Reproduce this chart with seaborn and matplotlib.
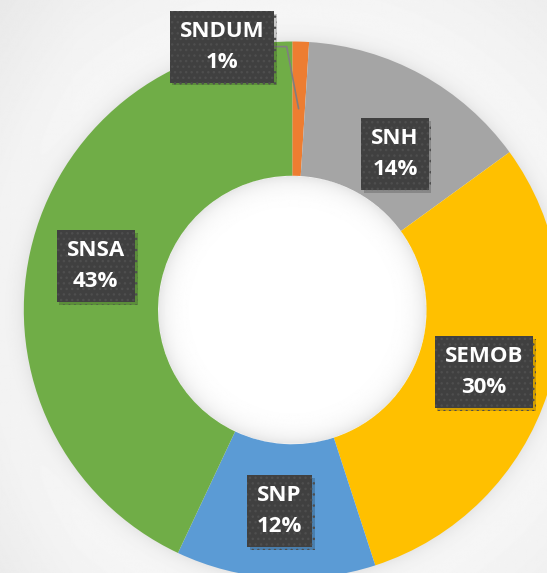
import numpy as np
import matplotlib
matplotlib.use("Agg")
import matplotlib.pyplot as plt
import matplotlib.patheffects as pe
import seaborn as sns

# Chart data (share of total, %)
categories = ["SNDUM", "SNH", "SEMOB", "SNP", "SNSA"]
shares = [1, 14, 30, 12, 43]
slice_colors = ["#ED7D31", "#A5A5A5", "#FFC000", "#5B9BD5", "#70AD47"]

sns.set_theme(style="white")
plt.rcParams["font.family"] = ["Open Sans", "DejaVu Sans"]

fig = plt.figure(figsize=(5.47, 5.73), dpi=100)
ax = fig.add_axes([0, 0, 1, 1])

# axis limits chosen so the ring sits where it does in the original (cropped right/bottom)
xlim = (-1.0886, 0.9486)
ylim = (-0.9795, 1.1546)

# soft background: light radial gradient, shadow round the ring, shading inside the hole
gx, gy = np.meshgrid(np.linspace(*xlim, 600), np.linspace(ylim[1], ylim[0], 620))
r = np.hypot(gx, gy)
bg = 0.975 - 0.045 * np.clip(r - 1.0, 0, None) / 0.5
bg = bg - 0.035 * (gx < 0) * np.clip(-gx - 0.8, 0, None)
shadow = 0.075 * np.exp(-np.clip(r - 1.0, 0, None) / 0.035) * (r > 0.99)
bg = bg - shadow
hole = r < 0.5
bg[hole] = 1.0 - 0.10 * np.exp(-(0.5 - r[hole]) / 0.035)
ax.imshow(np.clip(bg, 0, 1), cmap="gray", vmin=0, vmax=1, extent=(*xlim, *ylim),
          aspect="auto", zorder=0, interpolation="bilinear")

wedges, _ = ax.pie(shares, colors=sns.color_palette(slice_colors), startangle=90,
                   counterclock=False, radius=1.0,
                   wedgeprops=dict(width=0.5, linewidth=0))
for w in wedges:
    w.set_zorder(2)

ax.set_xlim(*xlim)
ax.set_ylim(*ylim)
ax.set_aspect("equal")
ax.axis("off")

# labels in the middle of the ring, nudged where the original moved them
nudges = {"SNDUM": (-0.286, 0.231), "SNH": (0.021, -0.076)}
cum = np.cumsum([0] + shares[:-1])
total = sum(shares)
for name, val, c0 in zip(categories, shares, cum):
    ang = np.deg2rad((c0 + val / 2) / total * 360)
    px, py = 0.75 * np.sin(ang), 0.75 * np.cos(ang)
    dx, dy = nudges.get(name, (0, 0))
    tx, ty = px + dx, py + dy
    if name == "SNDUM":
        # leader line from slice to the label box
        ax.plot([px, -0.021, -0.068], [py, 0.981, 0.981], color="#7F7F7F", lw=1.2, zorder=3)
    t = ax.text(tx, ty, f"{name}\n{val}%", ha="center", va="center", color="white",
                fontsize=16, fontweight="bold", linespacing=1.6, zorder=5,
                bbox=dict(boxstyle="square,pad=0.45", fc="#404040", ec="#4E4E4E",
                          lw=0, hatch="..."))
    t.get_bbox_patch().set_path_effects([
        pe.SimplePatchShadow(offset=(2, -2), shadow_rgbFace="#000000", alpha=0.18),
        pe.Normal()])

fig.savefig("out.png", dpi=100)
